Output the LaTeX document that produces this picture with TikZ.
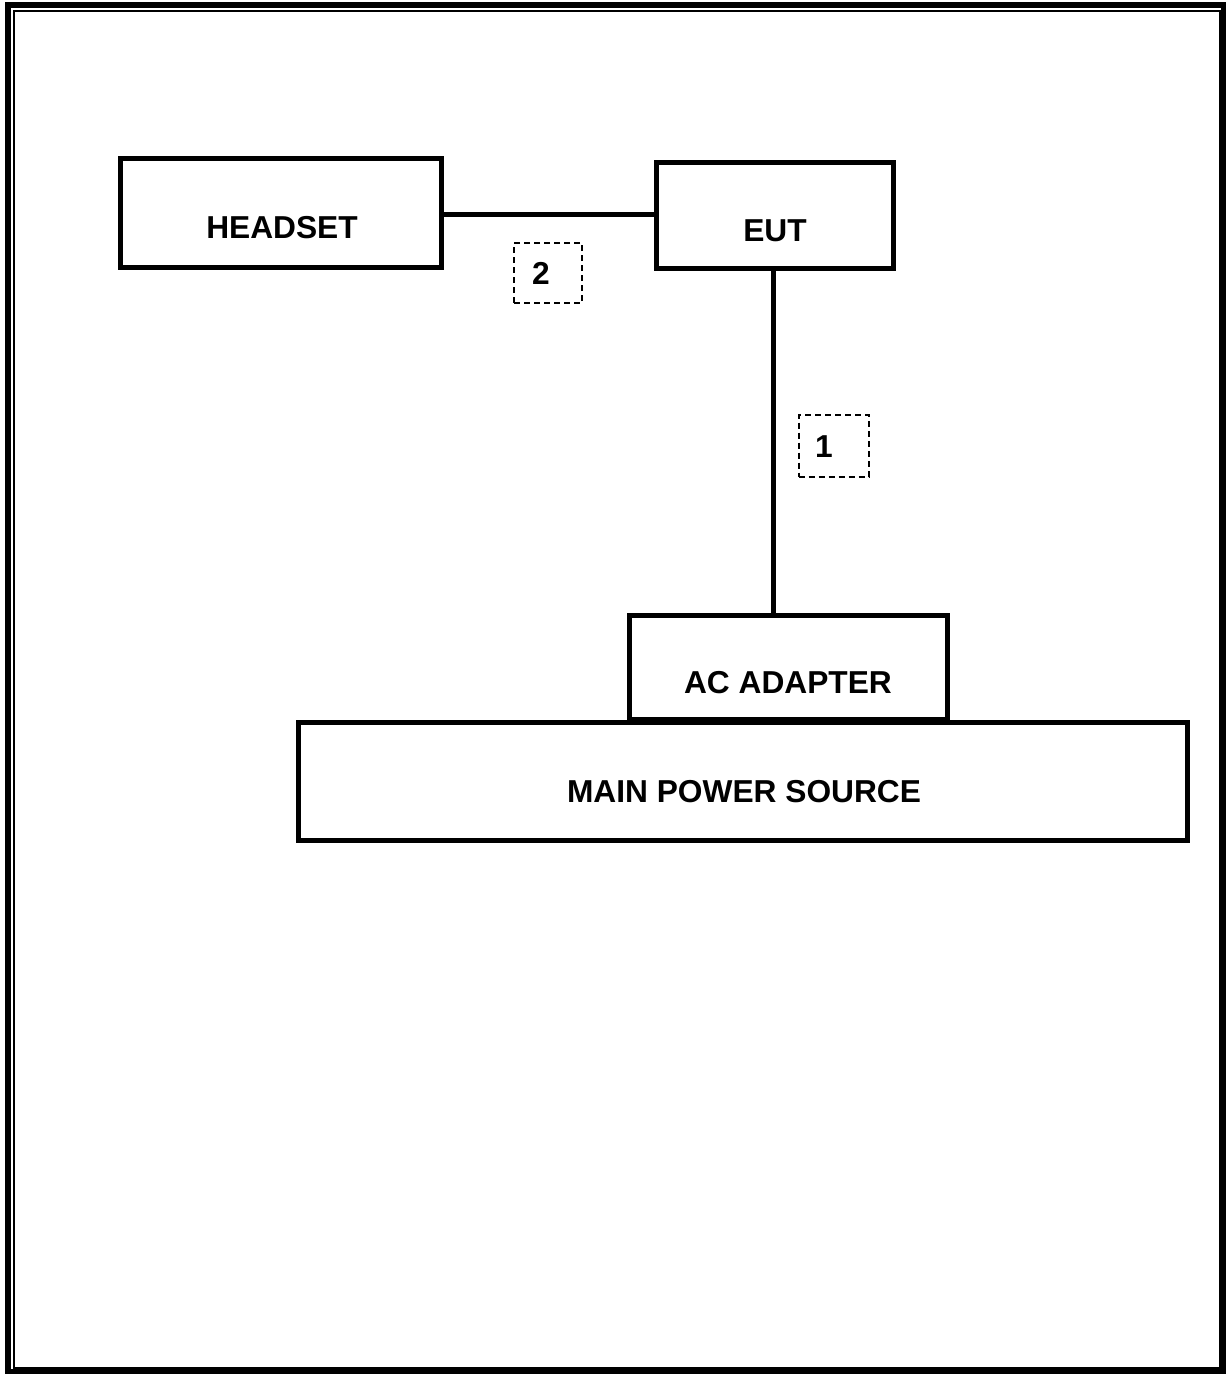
\documentclass[tikz,border=0pt]{standalone}
\usepackage{fontspec}
\setmainfont{Liberation Sans}
\begin{document}
\begin{tikzpicture}[x=1pt,y=-1pt,
  blk/.style={draw=black,line width=5pt,rectangle,inner sep=0pt},
  cable/.style={draw=black,line width=5pt},
  tag/.style={draw=black,line width=2pt,dash pattern=on 6pt off 4pt,rectangle,inner sep=0pt},
  txt/.style={font=\fontsize{31.7}{38}\selectfont\bfseries,inner sep=0pt,anchor=base}]
\useasboundingbox (0,0) rectangle (1226,1374);
% frame
\draw[line width=6pt] (8,5) rectangle (1224,1372);
\draw[line width=2pt] (14,11) rectangle (1220,1368);
% boxes
\node[blk,minimum width=321pt,minimum height=109pt] (headset) at (281,213) {};
\node[blk,minimum width=237pt,minimum height=106pt] (eut) at (775,215.5) {};
\node[blk,minimum width=318pt,minimum height=104pt] (adapter) at (788.5,667.5) {};
\node[blk,minimum width=889pt,minimum height=118pt] (mains) at (743,781.5) {};
% texts
\node[txt] (headsetT) at (282,238) {HEADSET};
\node[txt] (eutT) at (775,241) {EUT};
\node[txt] (adapterT) at (788,693) {AC ADAPTER};
\node[txt] (mainsT) at (744,802) {MAIN POWER SOURCE};
% cables
\coordinate (c2a) at ([yshift=-1pt]headset.east);
\draw[cable] (c2a) -- (c2a -| eut.west);
\coordinate (c1a) at ([xshift=-2pt]eut.south);
\draw[cable] (c1a) -- (c1a |- adapter.north);
% cable tags
\node[tag,minimum width=68pt,minimum height=60pt] (tag2) at (548,273) {};
\node[txt] (tag2T) at (541,284) {2};
\node[tag,minimum width=70pt,minimum height=62pt] (tag1) at (833.5,445.5) {};
\node[txt] (tag1T) at (824,457) {1};
\end{tikzpicture}
\end{document}
